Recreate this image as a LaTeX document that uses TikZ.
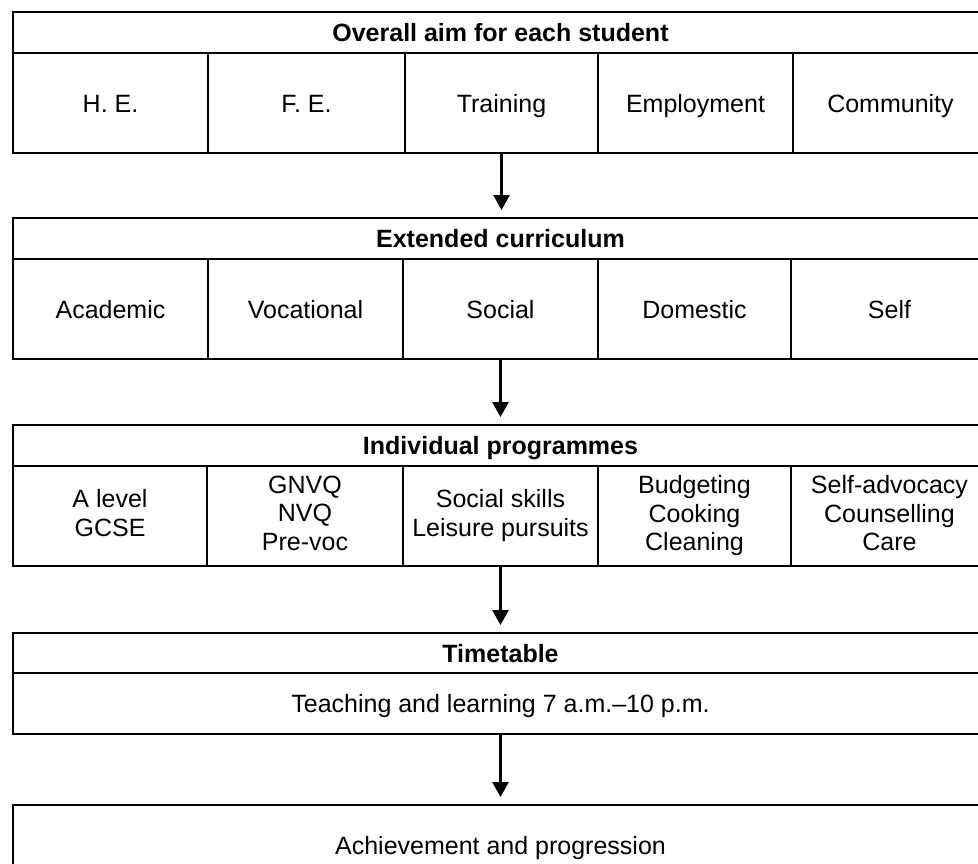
\documentclass[tikz,border=0pt]{standalone}
\usepackage{fontspec}
\setmainfont{Liberation Sans}
\usetikzlibrary{arrows.meta}

% even room above and below, so every line sits centred in its box
\def\cellstrut{\rule[-6pt]{0pt}{30pt}}

\tikzset{
	cell/.style={draw, line width=2.8pt, anchor=north west, minimum height=100pt,
		inner sep=0pt, outer sep=0pt, align=center, font=\fontsize{25}{28.5}\selectfont,
		execute at begin node=\cellstrut, execute at end node=\cellstrut},
	headrow/.style={cell, minimum width=975pt, minimum height=41pt,
		font=\fontsize{25}{28.5}\selectfont\bfseries},
	flow/.style={-{Triangle[width=16pt,length=15pt]}, line width=2.6pt, shorten >=8pt}
}

\begin{document}
\begin{tikzpicture}[x=1pt, y=-1pt]
			%%%%% START %%%%%
			\useasboundingbox (0, 0) rectangle (978, 863);
			\clip (0, 0) rectangle (978, 863);
			
			% aims
			\node[headrow] (aim) at (13, 12) {Overall aim for each student};
			\node[cell, minimum width=195pt] (he) at (aim.south west) {H. E.};
			\node[cell, minimum width=197pt] (fe) at (he.north east) {F. E.};
			\node[cell, minimum width=193pt] (train) at (fe.north east) {Training};
			\node[cell, minimum width=195pt] (employ) at (train.north east) {Employment};
			\node[cell, minimum width=195pt] (community) at (employ.north east) {Community};
			
			% curriculum
			\node[headrow] (curric) at (13, 218) {Extended curriculum};
			\node[cell, minimum width=195pt] (academic) at (curric.south west) {Academic};
			\node[cell, minimum width=195pt] (vocational) at (academic.north east) {Vocational};
			\node[cell, minimum width=195pt] (social) at (vocational.north east) {Social};
			\node[cell, minimum width=193pt] (domestic) at (social.north east) {Domestic};
			\node[cell, minimum width=197pt] (self) at (domestic.north east) {Self};
			
			% programmes
			\node[headrow] (progs) at (13, 425) {Individual programmes};
			\node[cell, minimum width=194pt] (alevel) at (progs.south west) {A level\\GCSE};
			\node[cell, minimum width=196pt] (gnvq) at (alevel.north east) {GNVQ\\NVQ\\Pre-voc};
			\node[cell, minimum width=195pt] (skills) at (gnvq.north east) {Social skills\\Leisure pursuits};
			\node[cell, minimum width=193pt] (budget) at (skills.north east) {Budgeting\\Cooking\\Cleaning};
			\node[cell, minimum width=197pt] (advocacy) at (budget.north east) {Self-advocacy\\Counselling\\Care};
			
			% timetable
			\node[headrow, minimum height=40pt] (timetable) at (13, 633) {Timetable};
			\node[cell, minimum width=975pt, minimum height=61pt] (teaching) at (timetable.south west) {Teaching and learning 7 a.m.--10 p.m.};
			
			\node[cell, minimum width=975pt, minimum height=80pt] (achieve) at (13, 805) {Achievement and progression};
			
			\draw[flow] (train.south) -- (train.south |- curric.north);
			\draw[flow] (social.south) -- (social.south |- progs.north);
			\draw[flow] (skills.south) -- (skills.south |- timetable.north);
			\draw[flow] (skills.south |- teaching.south) -- (skills.south |- achieve.north);
			
			%%%%% END %%%%%
\end{tikzpicture}
\end{document}
